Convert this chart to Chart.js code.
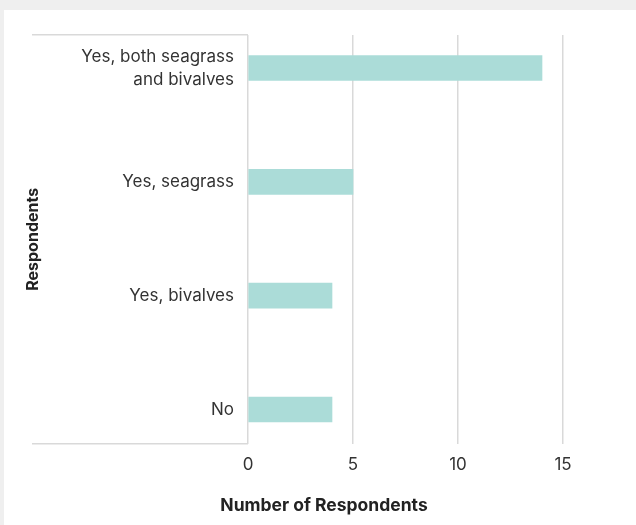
<!DOCTYPE html>
<html>
<head>
<meta charset="utf-8">
<script src="https://cdn.jsdelivr.net/npm/chart.js@4/dist/chart.umd.min.js"></script>
<style>
  html, body { margin: 0; padding: 0; width: 636px; height: 525px; overflow: hidden; background: #efefef; }
  #panel { position: absolute; left: 4px; top: 10px; width: 632px; height: 515px; background: #ffffff; }
  #wrap { position: absolute; left: 0px; top: 10px; width: 648px; height: 515px; }
</style>
</head>
<body>
<div id="panel"></div>
<div id="wrap"><canvas id="c" width="648" height="515"></canvas></div>
<script>
// ---- data ----
const categories = [["Yes, both seagrass", "and bivalves"], "Yes, seagrass", "Yes, bivalves", "No"];
const respondents = [14, 5, 4, 4];
const xTicks = [0, 5, 10, 15];
const xAxisTitle = "Number of Respondents";
const yAxisTitle = "Respondents";

const FONT = "Inter, 'Open Sans', sans-serif";
const TXT = "#333333";
const GRID = "#d9d9d9";

const yMin = -0.29, yMax = 3.3;

new Chart(document.getElementById('c'), {
  type: 'bar',
  data: {
    datasets: [{
      data: respondents.map((v, i) => ({ x: v, y: i })),
      backgroundColor: '#abdcd8',
      borderWidth: 0,
      barThickness: 25
    }]
  },
  options: {
    indexAxis: 'y',
    responsive: false,
    animation: false,
    layout: { padding: { top: 25, left: 0, right: 0, bottom: 0 } },
    plugins: {
      legend: { display: false },
      tooltip: { enabled: false },
      title: {
        display: true,
        position: 'bottom',
        text: xAxisTitle,
        color: '#222222',
        font: { family: FONT, size: 17.5, weight: 'bold' },
        padding: { top: 9, bottom: 9 }
      }
    },
    scales: {
      x: {
        type: 'linear',
        min: 0, max: 15,
        afterBuildTicks: s => { s.ticks = xTicks.map(v => ({ value: v })); },
        grid: { color: GRID, lineWidth: 1.5, drawTicks: false },
        border: { display: false },
        ticks: { color: TXT, font: { family: FONT, size: 17 }, padding: 11 }
      },
      y: {
        type: 'linear',
        position: 'left',
        reverse: true,
        offset: false,
        min: yMin, max: yMax,
        afterBuildTicks: s => {
          s.ticks = [yMin].concat(categories.map((c, i) => i)).concat([yMax]).map(v => ({ value: v }));
        },
        afterFit: s => { s.width = 248; },
        grid: {
          offset: false,
          drawOnChartArea: false,
          drawTicks: true,
          tickLength: 216,
          lineWidth: 1.5,
          color: ctx => (ctx.index === 0 || ctx.index === categories.length + 1) ? GRID : 'rgba(0,0,0,0)'
        },
        border: { display: false },
        ticks: {
          color: TXT,
          font: { family: FONT, size: 17, lineHeight: 1.36 },
          padding: -202,
          crossAlign: 'near',
          callback: v => (Number.isInteger(v) && categories[v] !== undefined) ? categories[v] : ''
        },
        title: {
          display: true,
          text: yAxisTitle,
          color: '#222222',
          font: { family: FONT, size: 16, weight: 'bold' },
          padding: { top: 24, bottom: 0 }
        }
      },
      pad: {
        type: 'linear',
        position: 'right',
        display: true,
        offset: false,
        grid: { display: false },
        border: { display: false },
        ticks: { display: false },
        afterFit: s => { s.width = 85; }
      }
    }
  }
});
</script>
</body>
</html>
